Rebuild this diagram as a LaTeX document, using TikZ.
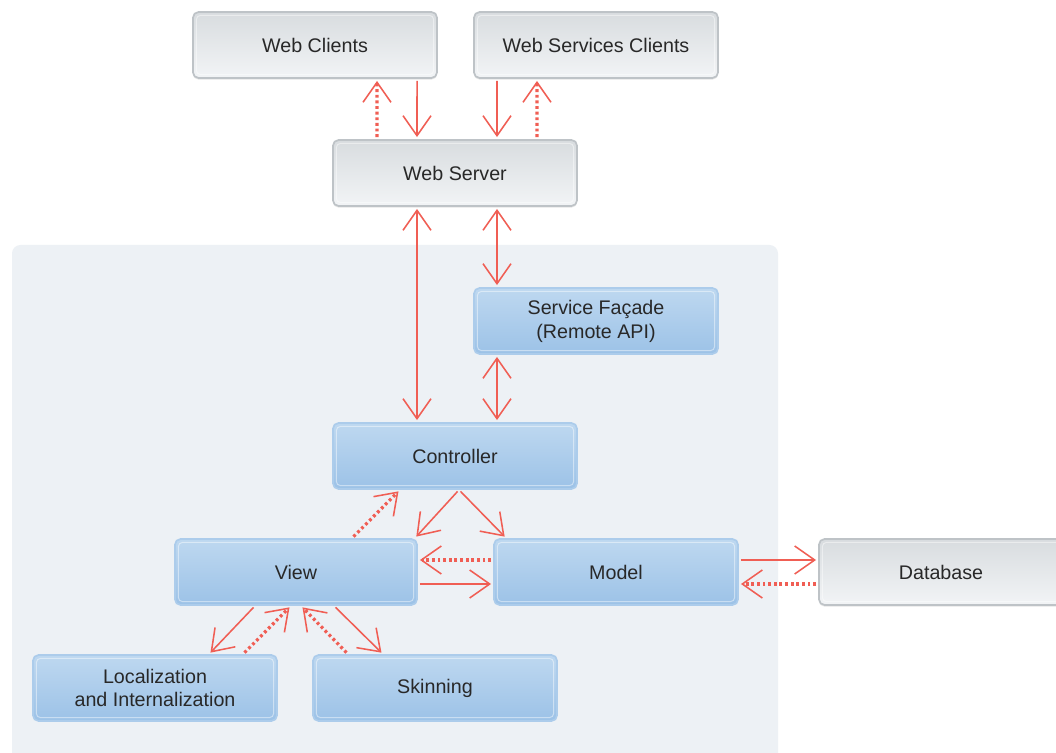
\documentclass[tikz,border=0pt]{standalone}
\usepackage{fontspec}
\setmainfont{Liberation Sans}
\usetikzlibrary{arrows.meta,shadows}
\definecolor{panelbg}{RGB}{237,241,245}
\definecolor{greytop}{RGB}{216,220,223}
\definecolor{greybot}{RGB}{242,244,246}
\definecolor{greyline}{RGB}{190,195,199}
\definecolor{bluetop}{RGB}{190,216,240}
\definecolor{bluebot}{RGB}{156,194,231}
\definecolor{blueline}{RGB}{172,204,235}
\definecolor{arrowred}{RGB}{240,94,84}
\definecolor{labeltext}{RGB}{40,40,40}
\begin{document}
\begin{tikzpicture}[x=0.025cm, y=-0.025cm]
    \tikzset{
        box/.style={rounded corners=4pt, minimum width=6.1cm, minimum height=1.65cm,
            align=center, text=labeltext, line width=1.2pt,
            font=\fontsize{14}{17}\selectfont},
        greybox/.style={box, draw=greyline, top color=greytop, bottom color=greybot,
            drop shadow={shadow xshift=0pt, shadow yshift=-1.2pt, opacity=.2}},
        bluebox/.style={box, draw=blueline, top color=bluetop, bottom color=bluebot},
        barb/.tip={Straight Barb[length=5mm, width=7mm, line width=1.1pt]},
        flow/.style={draw=arrowred, line width=1.1pt, shorten <=1.5pt, shorten >=1.5pt, -{barb}},
        both/.style={flow, {barb}-{barb}},
        back/.style={flow, line width=2.3pt, dash pattern=on 2pt off 2pt}
    }
    \useasboundingbox (0,0) rectangle (1056,753);
    \fill[white] (0,0) rectangle (1056,753);
    \fill[panelbg, rounded corners=6pt] (12,245) rectangle (778,775);

    \node[greybox] (wc) at (315,45) {Web Clients};
    \node[greybox] (wsc) at (596,45) {Web Services Clients};
    \node[greybox] (srv) at (455,173) {Web Server};
    \node[bluebox] (fac) at (596,321) {Service Façade\\(Remote API)};
    \node[bluebox] (ctl) at (455,456) {Controller};
    \node[bluebox, minimum width=6.05cm] (view) at (296,572) {View};
    \node[bluebox] (model) at (616,572) {Model};
    \node[greybox] (db) at (941,572) {Database};
    \node[bluebox, font=\fontsize{14}{16.5}\selectfont] (loc) at (155,688) {Localization\\and Internalization};
    \node[bluebox] (skin) at (435,688) {Skinning};
    \foreach \n in {wc,wsc,srv,fac,ctl,view,model,db,loc,skin}
        \draw[white, opacity=.45, rounded corners=3pt, line width=0.7pt]
            ([shift={(3pt,-3pt)}]\n.north west) rectangle ([shift={(-3pt,3pt)}]\n.south east);

    \draw[back] ([xshift=-1.95cm]srv.north) -- ([xshift=1.55cm]wc.south);
    \draw[flow] ([xshift=2.55cm]wc.south) -- ([xshift=-0.95cm]srv.north);
    \draw[flow] ([xshift=-2.475cm]wsc.south) -- ([xshift=1.05cm]srv.north);
    \draw[back] ([xshift=2.05cm]srv.north) -- ([xshift=-1.475cm]wsc.south);

    \draw[both] ([xshift=-0.95cm]srv.south) -- ([xshift=-0.95cm]ctl.north);
    \draw[both] ([xshift=1.05cm]srv.south) -- ([xshift=-2.475cm]fac.north);
    \draw[both] ([xshift=-2.475cm]fac.south) -- ([xshift=1.05cm]ctl.north);

    \draw[flow] ([xshift=0.1cm]ctl.south) -- ([xshift=-0.075cm]view.north east);
    \draw[flow] ([xshift=0.1cm]ctl.south) -- ([xshift=0.325cm]model.north west);
    \draw[back] ([xshift=1.4cm]view.north) -- ([xshift=-1.375cm]ctl.south);

    \draw[back] ([yshift=0.3cm]model.west) -- ([yshift=0.3cm]view.east);
    \draw[flow] ([yshift=-0.3cm]view.east) -- ([yshift=-0.3cm]model.west);
    \draw[flow] ([yshift=0.3cm]model.east) -- ([yshift=0.3cm]db.west);
    \draw[back] ([yshift=-0.3cm]db.west) -- ([yshift=-0.3cm]model.east);

    \draw[flow] ([xshift=-1.025cm]view.south) -- ([xshift=1.35cm]loc.north);
    \draw[back] ([xshift=2.2cm]loc.north) -- ([xshift=-0.125cm]view.south);
    \draw[back] ([xshift=-2.175cm]skin.north) -- ([xshift=0.125cm]view.south);
    \draw[flow] ([xshift=0.95cm]view.south) -- ([xshift=-1.3cm]skin.north);
\end{tikzpicture}
\end{document}
